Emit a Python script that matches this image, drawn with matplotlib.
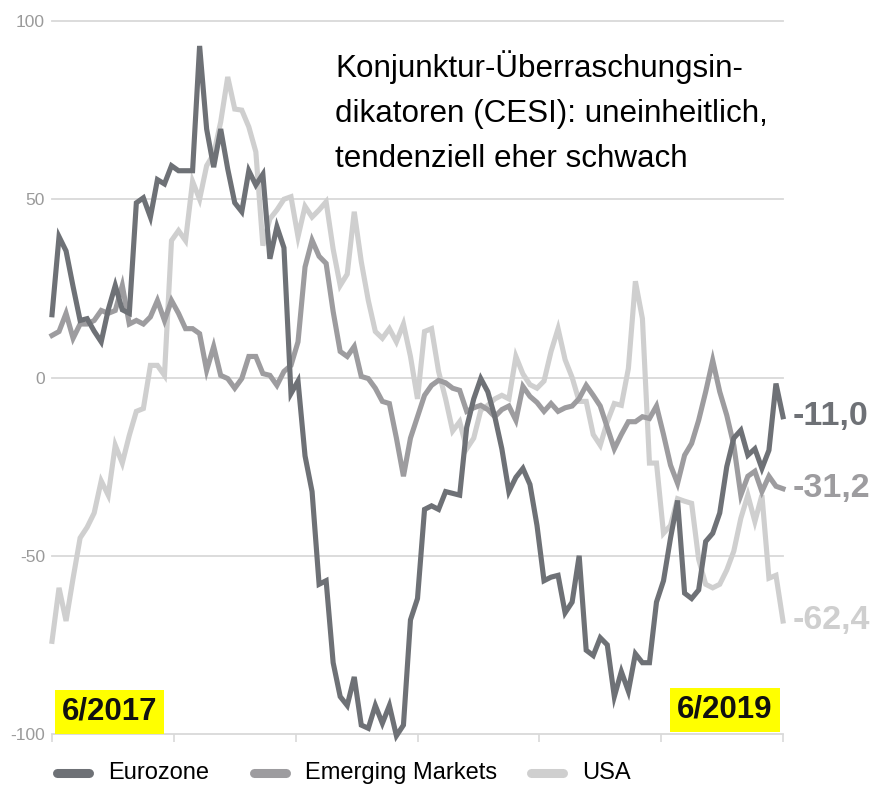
import numpy as np
import matplotlib
matplotlib.use("Agg")
import matplotlib.pyplot as plt
from matplotlib.lines import Line2D

plt.rcParams['font.family'] = ['Liberation Sans', 'DejaVu Sans']
plt.rcParams['axes.unicode_minus'] = False

# weekly CESI values, 6/2017 - 6/2019
eurozone = [17.6, 39.5, 35.5, 25.5, 16, 16.5, 13, 10, 19, 25.8,
            19, 18, 49, 50.4, 45, 55.5, 54.3, 59.4, 58, 58,
            58, 93, 69.7, 59, 69.7, 58.5, 49, 46.5, 58, 54,
            57, 33.3, 42.3, 36.4, -4.5, -1, -22, -32, -58, -57,
            -80, -89.5, -92, -84, -97.5, -98.4, -92, -97, -92, -100.5,
            -97.5, -68, -62, -37, -36, -37, -32, -32.5, -33, -14,
            -6, -0.3, -4, -11, -20, -32, -28, -25.5, -30, -41.5,
            -57, -56, -55.5, -66, -63, -50, -76.5, -78, -73, -75,
            -89.5, -82.5, -88, -77.5, -80, -80, -63, -57, -45, -34.5,
            -60.5, -62, -59.6, -46, -43.7, -38, -25, -17, -14.8, -21.8,
            -20, -25.5, -20.4, -1.7, -11]
emerging = [11.8, 12.9, 18, 11, 15, 15, 16, 18.8, 18, 18.8,
            25.8, 15, 16, 15, 17, 21.6, 16, 21.6, 18, 13.7,
            13.7, 12.3, 2, 8.7, 0.6, -0.3, -3, -0.3, 5.9, 5.9,
            1.1, 0.6, -2.2, 1.7, 3.4, 10, 31, 38.5, 34, 32,
            18.5, 7.3, 5.9, 8.7, 0.3, -0.3, -3, -6.7, -7.3, -17,
            -27.7, -17, -11, -5, -2.2, -0.8, -1.5, -3, -3.6, -9.5,
            -8.5, -7.8, -9, -11, -9, -8, -12, -2.5, -5.3, -7,
            -9.5, -7.3, -9.5, -8.5, -8, -5.9, -2.2, -5, -8, -14,
            -20, -16, -12.4, -12.4, -11, -11.5, -8, -16, -24.6, -29.7,
            -21.8, -18.5, -12, -4, 4.8, -4, -10.6, -19, -33, -27.7,
            -26.3, -32, -27.7, -30.5, -31.2]
usa = [-74, -59, -68.3, -56.3, -45, -42, -38, -29, -33, -19,
       -24, -16.2, -9.5, -8.7, 3.4, 3.4, 0.6, 38.4, 41.2, 38.4,
       55, 50, 59.4, 62.7, 71.7, 84.3, 75.3, 75, 70.3, 63.3,
       37, 44.5, 47, 50, 50.7, 39.5, 48, 45, 47, 49.3,
       36, 25.8, 29, 46.5, 32.5, 21.6, 12.9, 11, 13.7, 10,
       15, 5.9, -6, 12.9, 13.7, 1.7, -6, -15, -12.4, -20,
       -17, -9.2, -7.8, -6, -5, -6, 5.9, 1, -2, -3,
       -1, 7.3, 13.7, 5, 0, -6.7, -6.7, -16, -19, -12.4,
       -7.3, -7.8, 2.5, 27, 16.5, -24, -24, -43.7, -41.5, -34,
       -34.7, -35.3, -51, -58, -59, -58, -54, -48.7, -39.5, -33,
       -40.4, -33, -56.3, -55.5, -68.3]

names = ['Eurozone', 'Emerging Markets', 'USA']
end_labels = ['-11,0', '-31,2', '-62,4']
colors = ['#6e7176', '#9d9c9f', '#cfcfcf']
yticks = [-100, -50, 0, 50, 100]
start_label = '6/2017'
end_label = '6/2019'
title = 'Konjunktur-Überraschungsin-\ndikatoren (CESI): uneinheitlich,\ntendenziell eher schwach'

series = [eurozone, emerging, usa]
weeks = np.arange(len(eurozone))

W, H = 881, 786
fig = plt.figure(figsize=(W / 100, H / 100), dpi=100)
ax = fig.add_axes([52 / W, 1 - 734 / H, (783 - 52) / W, (734 - 21) / H])
ax.set_xlim(0, weeks[-1])
ax.set_ylim(-100, 100)

for s in ax.spines.values():
    s.set_visible(False)

grid_col = '#d9d9d9'
for v in yticks:
    ax.axhline(v, color=grid_col, lw=1.3, zorder=0, clip_on=False)

ax.set_yticks(yticks)
ax.set_yticklabels([str(v) for v in yticks], color='#9a9a9a', fontsize=12.5)
ax.tick_params(axis='y', length=0, pad=5)
ax.set_xticks(np.linspace(0, weeks[-1], 7))
ax.set_xticklabels([])
ax.tick_params(axis='x', direction='out', length=6, width=1.2, color=grid_col)

# lighter series first so the dark line sits on top
for vals, col in zip(series[::-1], colors[::-1]):
    ax.plot(weeks, vals, color=col, lw=3.7, solid_joinstyle='miter', clip_on=False, zorder=3)

for vals, lab, col in zip(series, end_labels, colors):
    ax.annotate(lab, xy=(weeks[-1], vals[-1]), xytext=(7, 0), textcoords='offset points',
                va='center', ha='left', fontsize=24.5, fontweight='bold', color=col,
                annotation_clip=False)

box = dict(boxstyle='square,pad=0.22', facecolor='#ffff00', edgecolor='none')
ax.text(0.0137, 0.031, start_label, transform=ax.transAxes, ha='left', va='center',
        fontsize=22.5, fontweight='bold', color='#111111', bbox=box, zorder=5)
ax.text(0.986, 0.034, end_label, transform=ax.transAxes, ha='right', va='center',
        fontsize=22.5, fontweight='bold', color='#111111', bbox=box, zorder=5)

fig.text(335 / W, 1 - 50 / H, title, ha='left', va='top', fontsize=22.6,
         linespacing=1.66, color='#000000')

# legend drawn by hand along the bottom
leg_y = 1 - 773 / H
handle_x = [57, 254, 531]
for x0, name, col in zip(handle_x, names, colors):
    fig.add_artist(Line2D([x0 / W, (x0 + 32) / W], [leg_y, leg_y], color=col, lw=6.5,
                          solid_capstyle='round', transform=fig.transFigure))
    fig.text((x0 + 51) / W, leg_y, name, ha='left', va='center', fontsize=17, color='#000000')

fig.savefig('out.png', dpi=100)
